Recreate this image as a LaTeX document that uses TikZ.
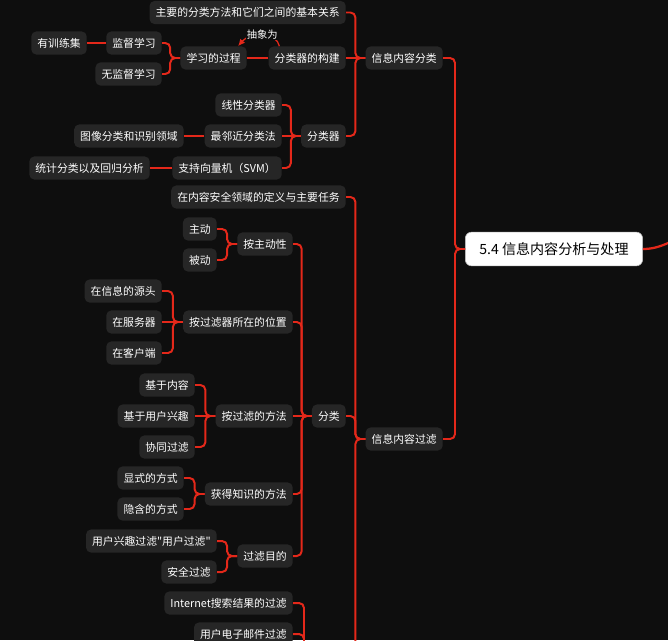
\documentclass[tikz,border=0pt]{standalone}
\usepackage{fontspec}
\setmainfont{Noto Sans CJK SC}[Ligatures=TeXOff]
\usetikzlibrary{arrows.meta,calc}
\definecolor{bgdark}{RGB}{14,14,14}
\definecolor{boxgray}{RGB}{38,38,38}
\definecolor{linkred}{RGB}{228,40,26}

\begin{document}
\begin{tikzpicture}[x=0.025cm, y=-0.025cm, >=Latex,
    box/.style={fill=boxgray, text=white, rounded corners=3.5pt, minimum height=16.4pt,
      inner xsep=4.3pt, inner ysep=0pt, anchor=east, font=\fontsize{7.7}{9}\selectfont},
    link/.style={draw=linkred, line width=1.4pt, rounded corners=3.5pt}]
  \path[use as bounding box] (0,0) rectangle (668,640);
  \clip (0,0) rectangle (668,640);
  \fill[bgdark] (0,0) rectangle (668,640);

  \node[fill=white, draw=black!25, rounded corners=4.5pt, minimum height=24pt, inner xsep=10pt,
    anchor=west, font=\fontsize{10}{12}\selectfont] (root) at (465,249) {5.4 信息内容分析与处理};
  \coordinate (further) at (692,231);

  \node[box] (cls) at (443,58) {信息内容分类};
  \node[box] (rel) at (346,12.5) {主要的分类方法和它们之间的基本关系};
  \node[box] (bld) at (346,58) {分类器的构建};
  \node[box] (clf) at (346,136) {分类器};
  \node[box] (lrn) at (247,58) {学习的过程};
  \node[box] (sup) at (162,43) {监督学习};
  \node[box] (uns) at (162,74) {无监督学习};
  \node[box] (trn) at (87,43) {有训练集};
  \node[box] (lin) at (282,105) {线性分类器};
  \node[box] (knn) at (282,136) {最邻近分类法};
  \node[box] (img) at (184,136) {图像分类和识别领域};
  \node[box] (svm) at (282,168) {支持向量机（SVM）};
  \node[box] (stat) at (150,168) {统计分类以及回归分析};

  \node[box] (flt) at (443,439) {信息内容过滤};
  \node[box] (def) at (346,197) {在内容安全领域的定义与主要任务};
  \node[box] (sort) at (346,416) {分类};
  \node[box] (act) at (293,244) {按主动性};
  \node[box] (pos) at (293,322) {按过滤器所在的位置};
  \node[box] (way) at (293,416) {按过滤的方法};
  \node[box] (know) at (293,494) {获得知识的方法};
  \node[box] (aim) at (293,556) {过滤目的};
  \node[box] (ac1) at (217,229) {主动};
  \node[box] (ac2) at (217,260) {被动};
  \node[box] (ps1) at (162,291) {在信息的源头};
  \node[box] (ps2) at (162,322) {在服务器};
  \node[box] (ps3) at (162,353) {在客户端};
  \node[box] (wy1) at (195,385) {基于内容};
  \node[box] (wy2) at (195,416) {基于用户兴趣};
  \node[box] (wy3) at (195,447) {协同过滤};
  \node[box] (kn1) at (184,478) {显式的方式};
  \node[box] (kn2) at (184,509) {隐含的方式};
  \node[box] (am1) at (217,541) {用户兴趣过滤"用户过滤"};
  \node[box] (am2) at (217,572) {安全过滤};
  \node[box] (net) at (293,603) {Internet搜索结果的过滤};
  \node[box] (mail) at (293,634) {用户电子邮件过滤};
  \coordinate (appE) at (346,668);
  \coordinate (appW) at (314,668);

  \foreach \p/\c in {root/cls, root/flt, cls/rel, cls/clf, lrn/sup, lrn/uns,
      clf/lin, clf/svm, flt/def, flt/sort,
      sort/act, sort/pos, sort/know, sort/aim, act/ac1, act/ac2,
      pos/ps1, pos/ps3, way/wy1, way/wy3, know/kn1, know/kn2,
      aim/am1, aim/am2}
    \draw[link] (\p.west) -- ++(-10,0) |- (\c.east);
  \foreach \p/\c in {cls/bld, bld/lrn, sup/trn, clf/knn, knn/img, svm/stat,
      pos/ps2, sort/way, way/wy2}
    \draw[link] (\p.west) -- (\c.east);
  \draw[link] (flt.west) -- ++(-10,0) |- (appE);
  \draw[link] (appW) -- ++(-10,0) |- (net.east);
  \draw[link] (appW) -- ++(-10,0) |- (mail.east);
  \draw[draw=linkred, line width=1.6pt] (root.east) .. controls (660,249) and (672,241) .. (further);

  \draw[draw=linkred, line width=0.9pt, -{Latex[length=5pt,width=4.5pt]}]
    ($(bld.north west)+(11,0)$) .. controls (277,32) and (250,32) ..
    node[fill=bgdark, text=white, inner sep=0.5pt, yshift=1pt, font=\fontsize{7.3}{8}\selectfont] {抽象为}
    ($(lrn.north east)+(-9,0)$);
\end{tikzpicture}
\end{document}
